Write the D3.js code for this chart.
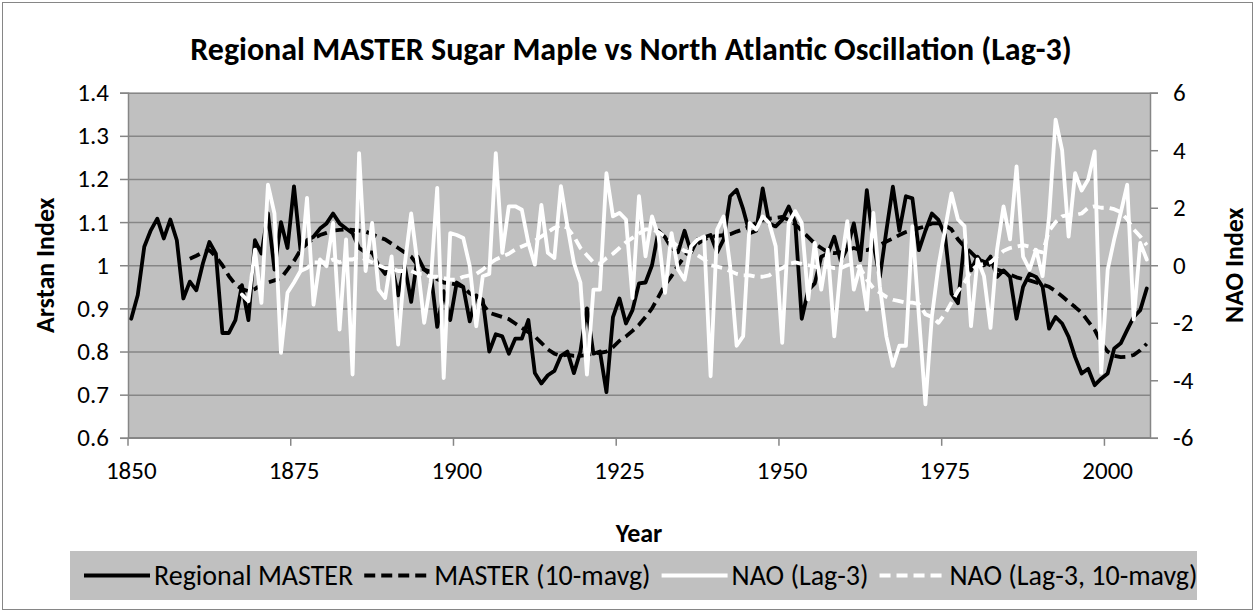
<!DOCTYPE html>
<html>
<head>
<meta charset="utf-8">
<script src="https://cdn.jsdelivr.net/npm/d3@7"></script>
<style>
  body { margin: 0; background: #fff; }
  svg { display: block; font-family: Calibri, Carlito, Lato, "Open Sans", sans-serif; }
</style>
</head>
<body>
<svg width="1255" height="612"></svg>
<script>
var svg = d3.select('svg');

// Years on the category axis
var firstYear = 1850, lastYear = 2006;
var years = d3.range(firstYear, lastYear + 1);
var yearLabels = [1850, 1875, 1900, 1925, 1950, 1975, 2000];
var leftTicks = [0.6, 0.7, 0.8, 0.9, 1.0, 1.1, 1.2, 1.3, 1.4];
var rightTicks = [-6, -4, -2, 0, 2, 4, 6];

// Regional MASTER (Arstan index), 1850-2006
var masterValues = [
  0.876, 0.931, 1.043, 1.081, 1.108, 1.062, 1.106, 1.058, 0.923, 0.962,
  0.942, 1.004, 1.054, 1.027, 0.843, 0.843, 0.873, 0.954, 0.873, 1.058,
  1.027, 1.120, 0.990, 1.100, 1.040, 1.183, 1.035, 1.058, 1.066, 1.085,
  1.097, 1.120, 1.097, 1.085, 1.074, 1.040, 1.030, 1.030, 1.000, 0.980,
  1.000, 0.930, 1.000, 0.915, 1.020, 0.990, 0.985, 0.857, 0.940, 0.873,
  0.960, 0.950, 0.870, 0.930, 0.920, 0.800, 0.840, 0.835, 0.795, 0.830,
  0.830, 0.873, 0.750, 0.726, 0.745, 0.755, 0.790, 0.800, 0.750, 0.800,
  0.900, 0.795, 0.800, 0.706, 0.880, 0.923, 0.865, 0.896, 0.958, 0.960,
  1.000, 1.080, 1.065, 1.040, 1.030, 1.080, 1.030, 1.060, 1.065, 1.070,
  1.030, 1.060, 1.160, 1.175, 1.130, 1.074, 1.080, 1.178, 1.097, 1.090,
  1.105, 1.136, 1.100, 0.876, 0.942, 0.958, 1.020, 1.027, 1.066, 1.010,
  1.040, 1.097, 1.012, 1.174, 1.050, 0.973, 1.080, 1.182, 1.080, 1.160,
  1.155, 1.035, 1.080, 1.120, 1.105, 1.070, 0.934, 0.912, 1.058, 0.988,
  1.020, 1.000, 1.020, 0.973, 0.988, 0.973, 0.876, 0.950, 0.980, 0.973,
  0.950, 0.853, 0.880, 0.865, 0.834, 0.787, 0.749, 0.760, 0.722, 0.737,
  0.749, 0.807, 0.819, 0.850, 0.880, 0.896, 0.946
];

// MASTER 10-year moving average, 1859-2006
var masterAvgStart = 1859;
var masterAvgValues = [
  1.015, 1.022, 1.030, 1.035, 1.020, 1.000, 0.975, 0.955, 0.945, 0.940,
  0.945, 0.955, 0.960, 0.965, 0.970, 0.990, 1.010, 1.035, 1.050, 1.062,
  1.070, 1.075, 1.080, 1.082, 1.083, 1.082, 1.080, 1.078, 1.072, 1.065,
  1.060, 1.050, 1.040, 1.030, 1.020, 1.000, 0.990, 0.978, 0.968, 0.960,
  0.958, 0.955, 0.950, 0.935, 0.925, 0.910, 0.890, 0.885, 0.880, 0.875,
  0.865, 0.855, 0.845, 0.835, 0.820, 0.805, 0.795, 0.790, 0.793, 0.790,
  0.790, 0.792, 0.795, 0.797, 0.800, 0.810, 0.825, 0.835, 0.848, 0.862,
  0.880, 0.900, 0.927, 0.955, 0.975, 1.000, 1.020, 1.040, 1.050, 1.060,
  1.065, 1.068, 1.070, 1.072, 1.078, 1.083, 1.090, 1.098, 1.105, 1.108,
  1.110, 1.112, 1.105, 1.095, 1.080, 1.065, 1.050, 1.040, 1.030, 1.028,
  1.030, 1.035, 1.040, 1.035, 1.035, 1.040, 1.047, 1.055, 1.062, 1.070,
  1.077, 1.082, 1.086, 1.090, 1.097, 1.097, 1.093, 1.083, 1.060, 1.043,
  1.030, 1.015, 1.008, 1.000, 0.990, 0.985, 0.978, 0.972, 0.968, 0.965,
  0.960, 0.955, 0.950, 0.940, 0.928, 0.915, 0.903, 0.890, 0.870, 0.850,
  0.820, 0.800, 0.790, 0.787, 0.788, 0.792, 0.803, 0.818
];

// NAO index lagged 3 years, 1867-2006
var naoStart = 1867;
var naoValues = [
  -1.02, -1.25, 0.54, -1.31, 2.80, 1.80, -3.05, -0.96, -0.60, -0.20,
  2.34, -1.37, 0.20, -0.03, 1.47, -2.24, 0.90, -3.80, 3.90, -0.20,
  1.47, -0.85, -1.14, 0.31, -2.76, 0.00, 1.80, 0.00, -2.00, -0.60,
  2.69, -3.92, 1.12, 1.05, 0.95, -0.03, -2.12, -0.38, -0.30, 3.90,
  0.43, 2.05, 2.05, 1.93, 0.78, 0.02, 2.10, 0.43, 0.25, 2.75,
  1.36, 0.08, -0.60, -3.80, -0.85, -0.85, 3.20, 1.70, 1.82, 1.59,
  -1.14, 2.40, 0.31, 1.70, 1.00, -0.96, 1.12, -0.15, -0.50, 0.66,
  0.90, 1.00, -3.86, 1.24, 1.70, -0.03, -2.80, -2.47, 1.47, 1.24,
  1.70, 1.47, 0.66, -2.70, 1.47, 1.88, 1.47, -1.19, 0.78, -0.85,
  0.54, -2.47, -0.03, 1.53, -0.85, -0.03, -1.54, 1.82, -0.73, -2.47,
  -3.50, -2.80, -2.80, 1.36, -1.77, -4.84, -1.77, -0.03, 1.24, 2.50,
  1.59, 1.36, -2.12, 0.20, -0.38, -2.18, 0.54, 2.05, 0.90, 3.44,
  0.30, -0.15, 0.54, -0.38, 1.70, 5.06, 4.00, 1.00, 3.20, 2.60,
  2.98, 3.96, -3.74, -0.15, 0.90, 1.82, 2.80, -1.89, 0.78, 0.20
];

// NAO 10-year moving average, 1876-2006
var naoAvgStart = 1876;
var naoAvgValues = [
  -0.20, -0.10, 0.10, 0.10, 0.10, 0.20, 0.10, 0.20, 0.20, 0.30,
  0.20, 0.10, 0.00, -0.10, -0.10, -0.20, -0.20, -0.20, -0.30, -0.30,
  -0.40, -0.40, -0.45, -0.50, -0.50, -0.40, -0.35, -0.30, -0.15, 0.05,
  0.20, 0.30, 0.40, 0.55, 0.65, 0.75, 0.85, 1.00, 1.15, 1.30,
  1.40, 1.30, 1.00, 0.60, 0.35, 0.10, 0.05, 0.25, 0.40, 0.60,
  0.80, 0.95, 1.10, 1.25, 1.25, 1.15, 1.00, 0.85, 0.65, 0.50,
  0.45, 0.35, 0.20, 0.00, -0.05, -0.10, -0.20, -0.30, -0.35, -0.35,
  -0.40, -0.40, -0.35, -0.20, -0.10, 0.05, 0.10, 0.05, 0.00, -0.05,
  -0.10, -0.05, -0.10, -0.10, 0.00, 0.05, -0.10, -0.50, -0.80, -0.95,
  -1.10, -1.20, -1.25, -1.30, -1.30, -1.35, -1.70, -1.80, -2.00, -1.70,
  -1.30, -0.90, -0.60, -0.20, 0.00, 0.05, 0.10, 0.30, 0.50, 0.60,
  0.65, 0.70, 0.65, 0.50, 0.45, 1.20, 1.50, 1.70, 1.75, 1.75,
  1.80, 2.00, 2.05, 2.00, 2.00, 1.95, 1.85, 1.60, 1.25, 1.00,
  0.70
];

function toPoints(start, values) {
  return values.map(function(v, i) { return { year: start + i, value: v }; });
}

var plot = { left: 128, right: 1150, top: 92.7, bottom: 437.8 };
var gridColor = '#868686';

var xScale = d3.scaleBand()
  .domain(years)
  .range([plot.left, plot.right])
  .padding(0);

var yLeft = d3.scaleLinear().domain([0.6, 1.4]).range([plot.bottom, plot.top]);
var yRight = d3.scaleLinear().domain([-6, 6]).range([plot.bottom, plot.top]);

function xMid(d) { return xScale(d.year) + xScale.bandwidth() / 2; }

// outer chart border
svg.append('rect')
  .attr('x', 2.5).attr('y', 2.5)
  .attr('width', 1250).attr('height', 607)
  .attr('fill', '#fff')
  .attr('stroke', gridColor)
  .attr('stroke-width', 1);

// plot area background
svg.append('rect')
  .attr('x', plot.left).attr('y', plot.top)
  .attr('width', plot.right - plot.left)
  .attr('height', plot.bottom - plot.top)
  .attr('fill', '#c0c0c0');

// gridlines (left axis)
svg.append('g')
  .attr('class', 'grid')
  .attr('transform', 'translate(' + plot.left + ',0)')
  .call(d3.axisLeft(yLeft).tickValues(leftTicks)
    .tickSize(-(plot.right - plot.left)).tickFormat(''))
  .call(function(g) {
    g.select('.domain').remove();
    g.selectAll('line').attr('stroke', gridColor).attr('stroke-width', 1.5);
  });

// left axis
svg.append('g')
  .attr('class', 'y axis')
  .attr('transform', 'translate(' + plot.left + ',0)')
  .call(d3.axisLeft(yLeft).tickValues(leftTicks).tickSize(8).tickPadding(11)
    .tickFormat(function(d) { return d === 1 ? '1' : d3.format('.1f')(d); }));

// right axis (plain hyphen for negatives, as in the original)
svg.append('g')
  .attr('class', 'y axis')
  .attr('transform', 'translate(' + plot.right + ',0)')
  .call(d3.axisRight(yRight).tickValues(rightTicks).tickSize(8).tickPadding(15)
    .tickFormat(function(d) { return String(d); }));

// bottom axis: tick marks at category boundaries, labels at category centres
var xAxis = svg.append('g')
  .attr('class', 'x axis')
  .attr('transform', 'translate(0,' + plot.bottom + ')');
xAxis.append('line')
  .attr('x1', plot.left).attr('x2', plot.right)
  .attr('y1', 0).attr('y2', 0);
xAxis.selectAll('.xtick')
  .data(yearLabels)
  .enter()
  .append('line')
  .attr('class', 'xtick')
  .attr('x1', function(d) { return xScale(d); })
  .attr('x2', function(d) { return xScale(d); })
  .attr('y1', 0).attr('y2', 8);
xAxis.selectAll('.xlabel')
  .data(yearLabels)
  .enter()
  .append('text')
  .attr('class', 'xlabel')
  .attr('x', function(d) { return xScale(d) + xScale.bandwidth() / 2; })
  .attr('y', 32)
  .attr('dy', '0.35em')
  .attr('text-anchor', 'middle')
  .text(function(d) { return d; });

svg.selectAll('.axis line, .axis path')
  .attr('stroke', gridColor)
  .attr('stroke-width', 1.5);
svg.selectAll('.axis text')
  .attr('fill', '#000')
  .style('font-size', '25px')
  .style('font-family', 'Calibri, Carlito, Lato, sans-serif');

// series lines
var lineLeft = d3.line().x(xMid).y(function(d) { return yLeft(d.value); });
var lineRight = d3.line().x(xMid).y(function(d) { return yRight(d.value); });

var series = [
  { name: 'Regional MASTER', pts: toPoints(firstYear, masterValues), line: lineLeft, color: '#000', dash: null },
  { name: 'MASTER (10-mavg)', pts: toPoints(masterAvgStart, masterAvgValues), line: lineLeft, color: '#000', dash: '11,6' },
  { name: 'NAO (Lag-3)', pts: toPoints(naoStart, naoValues), line: lineRight, color: '#fff', dash: null },
  { name: 'NAO (Lag-3, 10-mavg)', pts: toPoints(naoAvgStart, naoAvgValues), line: lineRight, color: '#fff', dash: '11,6' }
];

svg.selectAll('.series')
  .data(series)
  .enter()
  .append('path')
  .attr('class', 'series')
  .attr('d', function(d) { return d.line(d.pts); })
  .attr('fill', 'none')
  .attr('stroke', function(d) { return d.color; })
  .attr('stroke-width', 3.8)
  .attr('stroke-linejoin', 'round')
  .attr('stroke-linecap', function(d) { return d.dash ? 'butt' : 'round'; })
  .attr('stroke-dasharray', function(d) { return d.dash; });

// title
svg.append('text')
  .attr('x', 631)
  .attr('y', 60)
  .attr('text-anchor', 'middle')
  .style('font-size', '32px')
  .style('font-weight', 'bold')
  .text('Regional MASTER Sugar Maple vs North Atlantic Oscillation (Lag-3)');

// axis titles
svg.append('text')
  .attr('class', 'axisLabel')
  .attr('transform', 'translate(45,' + ((plot.top + plot.bottom) / 2) + ')rotate(270)')
  .attr('dy', '0.35em')
  .attr('text-anchor', 'middle')
  .style('font-size', '26px')
  .style('font-weight', 'bold')
  .text('Arstan Index');

svg.append('text')
  .attr('class', 'axisLabel')
  .attr('transform', 'translate(1234,' + ((plot.top + plot.bottom) / 2) + ')rotate(270)')
  .attr('dy', '0.35em')
  .attr('text-anchor', 'middle')
  .style('font-size', '26px')
  .style('font-weight', 'bold')
  .text('NAO Index');

svg.append('text')
  .attr('x', (plot.left + plot.right) / 2)
  .attr('y', 533)
  .attr('dy', '0.35em')
  .attr('text-anchor', 'middle')
  .style('font-size', '26px')
  .style('font-weight', 'bold')
  .text('Year');

// legend: sample line, then label, laid out left to right
var legend = svg.append('g').attr('class', 'legend');
legend.append('rect')
  .attr('x', 70).attr('y', 551)
  .attr('width', 1127).attr('height', 49)
  .attr('fill', '#c0c0c0');

var legendY = 575.5, sampleLen = 66;
var cursor = 84;
series.forEach(function(s) {
  var g = legend.append('g').attr('transform', 'translate(' + cursor + ',' + legendY + ')');
  g.append('line')
    .attr('x1', 0).attr('x2', sampleLen)
    .attr('stroke', s.color)
    .attr('stroke-width', 3.8)
    .attr('stroke-dasharray', s.dash);
  var t = g.append('text')
    .attr('x', sampleLen + 4)
    .attr('dy', '0.35em')
    .style('font-size', '28px')
    .text(s.name);
  cursor += sampleLen + 4 + t.node().getComputedTextLength() + 11;
});
</script>
</body>
</html>
